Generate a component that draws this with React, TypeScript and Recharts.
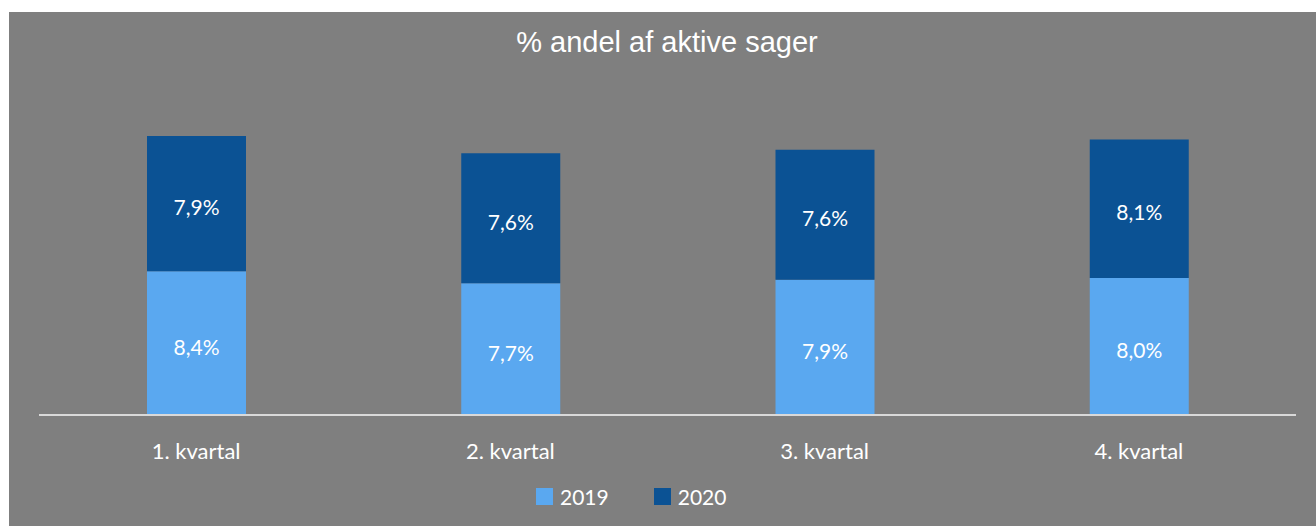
import React from "react";
import { BarChart, Bar, XAxis, YAxis, Legend, LabelList } from "recharts";

const quarters = ["1. kvartal", "2. kvartal", "3. kvartal", "4. kvartal"];
const values2019 = [8.4, 7.7, 7.9, 8.0];
const values2020 = [7.9, 7.6, 7.6, 8.1];

const data = quarters.map((q, i) => ({ quarter: q, y2019: values2019[i], y2020: values2020[i] }));

const colors = { y2019: "#5AA8F0", y2020: "#0B5294" };
const font = "Lato, 'Open Sans', sans-serif";

const fmt = (v: any) => `${Number(v).toFixed(1).replace(".", ",")}%`;

function LegendBox() {
  const items = [
    { name: "2019", color: colors.y2019 },
    { name: "2020", color: colors.y2020 },
  ];
  return (
    <div style={{ height: 53, display: "flex", alignItems: "flex-start", paddingLeft: 527, paddingTop: 15, boxSizing: "border-box" }}>
      {items.map((it) => (
        <div key={it.name} style={{ display: "flex", alignItems: "center", marginRight: 45 }}>
          <span style={{ width: 17, height: 17, background: it.color, display: "inline-block", marginRight: 7 }} />
          <span style={{ color: "#fff", fontFamily: font, fontSize: 21, lineHeight: "17px" }}>{it.name}</span>
        </div>
      ))}
    </div>
  );
}

export default function App() {
  return (
    <div style={{ position: "absolute", left: 9, top: 12, width: 1307, height: 514, background: "#7F7F7F" }}>
      <svg width={1307} height={60} style={{ position: "absolute", left: 0, top: 0 }}>
        <text x={658} y={40} textAnchor="middle" fill="#fff" fontFamily="'Liberation Sans', Arial, sans-serif" fontSize={29}>
          % andel af aktive sager
        </text>
      </svg>
      <BarChart width={1307} height={514} data={data} margin={{ top: 95, right: 20, left: 30, bottom: 0 }}>
        <XAxis
          dataKey="quarter"
          height={58}
          axisLine={{ stroke: "#D9D9D9", strokeWidth: 2 }}
          tickLine={false}
          tickSize={0}
          tickMargin={28}
          tick={{ fill: "#fff", fontFamily: font, fontSize: 22 }}
        />
        <YAxis hide domain={[0, 18]} />
        <Legend verticalAlign="bottom" wrapperStyle={{ left: 0, width: 1307 }} content={() => <LegendBox />} />
        <Bar dataKey="y2019" name="2019" stackId="a" fill={colors.y2019} barSize={99} isAnimationActive={false}>
          <LabelList dataKey="y2019" position="center" formatter={fmt} fill="#fff" fontFamily={font} fontSize={21} dy={4} />
        </Bar>
        <Bar dataKey="y2020" name="2020" stackId="a" fill={colors.y2020} barSize={99} isAnimationActive={false}>
          <LabelList dataKey="y2020" position="center" formatter={fmt} fill="#fff" fontFamily={font} fontSize={21} dy={4} />
        </Bar>
      </BarChart>
    </div>
  );
}
